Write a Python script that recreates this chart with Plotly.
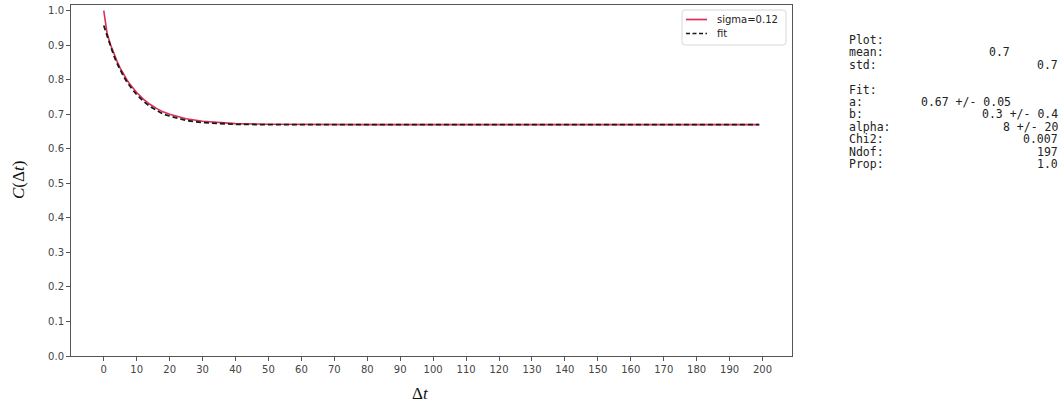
import plotly.graph_objects as go

# data
t_vals = [0, 1, 2, 3, 4, 5, 6, 7, 8, 9, 10, 12, 14, 16, 18, 20, 25, 30, 35, 40, 50, 60, 80, 100, 120, 140, 160, 180, 199]
sigma_vals = [1.000, 0.935, 0.903, 0.877, 0.854, 0.834, 0.816, 0.800, 0.786, 0.774, 0.763, 0.744, 0.729, 0.717, 0.707, 0.700, 0.687, 0.680, 0.676, 0.673, 0.671, 0.670, 0.670, 0.670, 0.670, 0.670, 0.670, 0.670, 0.670]
fit_vals = [0.957, 0.926, 0.897, 0.871, 0.848, 0.828, 0.810, 0.794, 0.780, 0.768, 0.757, 0.738, 0.723, 0.711, 0.701, 0.695, 0.682, 0.676, 0.673, 0.671, 0.670, 0.670, 0.670, 0.670, 0.670, 0.670, 0.670, 0.670, 0.670]

x_ticks = list(range(0, 201, 10))
y_ticks = [0.0, 0.1, 0.2, 0.3, 0.4, 0.5, 0.6, 0.7, 0.8, 0.9, 1.0]

series_names = ["sigma=0.12", "fit"]
series_colors = ["#dc2f55", "#1a1a1a"]

info_labels = ["Plot:", "mean:", "std:", "", "Fit:", "a:", "b:", "alpha:", "Chi2:", "Ndof:", "Prop:"]
info_values = ["", "0.7", "0.7", "", "", "0.67 +/- 0.05", "0.3 +/- 0.4", "8 +/- 20", "0.007", "197", "1.0"]
info_value_end = [None, 1011, 1059, None, None, 1012, 1059, 1059, 1059, 1059, 1059]

W, H = 1063, 403
L, R, T, B = 71, 792, 5, 356


def px(xp):
    return (xp - L) / (R - L)


def py(yp):
    return (B - yp) / (B - T)


fig = go.Figure()
fig.add_trace(go.Scatter(x=t_vals, y=sigma_vals, mode="lines", name=series_names[0],
                         line=dict(color=series_colors[0], width=1.6), showlegend=False))
fig.add_trace(go.Scatter(x=t_vals, y=fit_vals, mode="lines", name=series_names[1],
                         line=dict(color=series_colors[1], width=1.8, dash="5px,3px"),
                         showlegend=False))

axis_common = dict(showline=True, linecolor="#555555", linewidth=1, mirror=True,
                   ticks="outside", ticklen=4, tickcolor="#555555", tickwidth=1,
                   showgrid=False, zeroline=False,
                   tickfont=dict(family="DejaVu Sans", size=10, color="#444444"))

fig.update_layout(
    width=W, height=H,
    margin=dict(l=L, r=W - R, t=T, b=H - B),
    plot_bgcolor="white", paper_bgcolor="white",
    showlegend=False,
    xaxis=dict(range=[-9.95, 208.95], tickvals=x_ticks, **axis_common),
    yaxis=dict(range=[0, 1.0165], tickvals=y_ticks, tickformat=".1f", **axis_common),
)

# legend box (drawn manually to match compact matplotlib legend)
lx0, lx1, ly0, ly1, rr = 682, 786, 10, 45, 3
path = (f"M {px(lx0 + rr)},{py(ly0)} L {px(lx1 - rr)},{py(ly0)} "
        f"Q {px(lx1)},{py(ly0)} {px(lx1)},{py(ly0 + rr)} L {px(lx1)},{py(ly1 - rr)} "
        f"Q {px(lx1)},{py(ly1)} {px(lx1 - rr)},{py(ly1)} L {px(lx0 + rr)},{py(ly1)} "
        f"Q {px(lx0)},{py(ly1)} {px(lx0)},{py(ly1 - rr)} L {px(lx0)},{py(ly0 + rr)} "
        f"Q {px(lx0)},{py(ly0)} {px(lx0 + rr)},{py(ly0)} Z")
fig.add_shape(type="path", path=path, xref="paper", yref="paper",
              line=dict(color="#d8d8d8", width=1), fillcolor="rgba(255,255,255,0.85)")
legend_rows = [19.5, 33.5]
legend_dash = ["solid", "4px,2.5px"]
for name, col, ry, dsh in zip(series_names, series_colors, legend_rows, legend_dash):
    fig.add_shape(type="line", xref="paper", yref="paper",
                  x0=px(686), x1=px(707), y0=py(ry), y1=py(ry),
                  line=dict(color=col, width=1.7, dash=dsh))
    fig.add_annotation(x=px(715), y=py(ry), xref="paper", yref="paper", text=name,
                       showarrow=False, xanchor="left", yanchor="middle",
                       font=dict(family="DejaVu Sans", size=10, color="#222222"))

# axis titles
fig.add_annotation(x=px(420), y=py(393), xref="paper", yref="paper",
                   text="Δ<i>t</i>", showarrow=False, xanchor="center", yanchor="middle",
                   font=dict(family="Liberation Serif", size=17, color="#111111"))
fig.add_annotation(x=px(18), y=py(180), xref="paper", yref="paper",
                   text="<i>C</i>(Δ<i>t</i>)", showarrow=False, textangle=-90,
                   xanchor="center", yanchor="middle",
                   font=dict(family="Liberation Serif", size=17, color="#111111"))

# info text block
x0 = 848
y0 = 40
dy = 12.4
mono = dict(family="DejaVu Sans Mono", size=11.5, color="#222222")
for i, (lab, val, xe) in enumerate(zip(info_labels, info_values, info_value_end)):
    yp = y0 + i * dy
    if lab:
        fig.add_annotation(x=px(x0), y=py(yp), xref="paper", yref="paper",
                           text=lab, showarrow=False, xanchor="left", yanchor="middle",
                           height=12.3, borderpad=0, font=mono)
    if val:
        fig.add_annotation(x=px(xe), y=py(yp), xref="paper", yref="paper",
                           text=val, showarrow=False, xanchor="right", yanchor="middle",
                           height=12.3, borderpad=0, font=mono)

fig.write_html("out.html", config={"displayModeBar": False},
               post_script="document.body.style.margin='0';document.body.style.overflow='hidden';")
